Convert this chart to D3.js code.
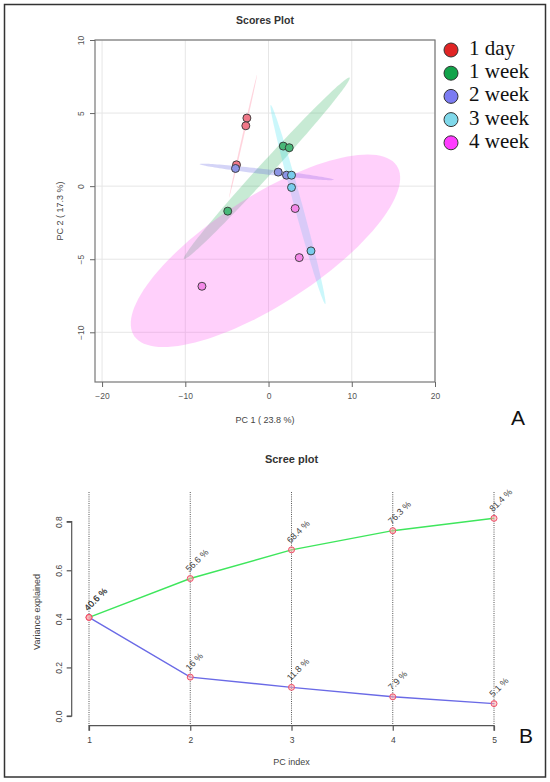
<!DOCTYPE html>
<html><head><meta charset="utf-8">
<script src="https://cdn.jsdelivr.net/npm/d3@7/dist/d3.min.js"></script>
<style>body{margin:0;background:#fff}text{font-family:"Liberation Sans",Arial,sans-serif}</style>
</head><body>
<svg id="c" width="550" height="782"></svg>
<script>
// ---- Scores plot data ----
const groups = ["1 day","1 week","2 week","3 week","4 week"];
const scoreGroup = ["1 day","1 day","1 day","1 week","1 week","1 week","2 week","2 week","2 week","3 week","3 week","3 week","4 week","4 week","4 week"];
const scorePC1 = [-2.6,-2.73,-3.85, 1.77,2.49,-4.9, -3.97,1.16,2.16, 2.76,2.76,5.1, 3.2,3.69,-8.0];
const scorePC2 = [4.66,4.13,1.46, 2.74,2.63,-1.71, 1.21,0.96,0.75, 0.75,-0.09,-4.43, -1.53,-4.89,-6.85];
const scoreXTicks = [-20,-10,0,10,20];
const scoreYTicks = [-10,-5,0,5,10];
const pointColors = ["#f07888","#48b878","#8c94e4","#78ccec","#f488e8"];
const ellipseColors = ["#ff6080","#30b060","#6060e0","#40e0f0","#ff50f0"];
const legendColors = ["#e02424","#12a34a","#7b7bf2","#7fd8ea","#ff3cff"];

// ---- Scree plot data ----
const pcIndex = [1,2,3,4,5];
const cumulative = [0.406,0.566,0.684,0.763,0.814];
const individual = [0.406,0.16,0.118,0.079,0.051];
const cumLabels = ["40.6 %","56.6 %","68.4 %","76.3 %","81.4 %"];
const indLabels = ["40.6 %","16 %","11.8 %","7.9 %","5.1 %"];
const screeYTicks = [0,0.2,0.4,0.6,0.8];

const svg = d3.select("#c");
const txt = "#333";

// outer frame
svg.append("rect").attr("x",4.5).attr("y",4.5).attr("width",541).attr("height",772.5)
  .attr("fill","none").attr("stroke","#333").attr("stroke-width",1.5);

// ===== Scores plot =====
const x1 = d3.scaleLinear().domain([-20.85,20]).range([95,435]);
const y1 = d3.scaleLinear().domain([-13.4,10]).range([382,40]);
const g1 = svg.append("g");

g1.append("clipPath").attr("id","clip1").append("rect")
  .attr("x",95).attr("y",40).attr("width",340).attr("height",342);

// gridlines
g1.selectAll(".gx").data(scoreXTicks).join("line")
  .attr("x1",d=>x1(d)).attr("x2",d=>x1(d)).attr("y1",40).attr("y2",382)
  .attr("stroke","#e6e6e6").attr("stroke-width",1);
g1.selectAll(".gy").data(scoreYTicks).join("line")
  .attr("y1",d=>y1(d)).attr("y2",d=>y1(d)).attr("x1",95).attr("x2",435)
  .attr("stroke","#e6e6e6").attr("stroke-width",1);

// ellipses (95% confidence from group points)
function ellipse(xs, ys, t){
  const n = xs.length;
  const mx = d3.mean(xs), my = d3.mean(ys);
  let a=0,b=0,c=0;
  for(let i=0;i<n;i++){const dx=xs[i]-mx, dy=ys[i]-my; a+=dx*dx; b+=dx*dy; c+=dy*dy;}
  a/=(n-1); b/=(n-1); c/=(n-1);
  const tr=(a+c)/2, det=Math.sqrt(((a-c)/2)**2 + b*b);
  const l1=tr+det, l2=Math.max(tr-det,0);
  const th=0.5*Math.atan2(2*b, a-c);
  const pts=[];
  for(let k=0;k<120;k++){
    const ang=2*Math.PI*k/120;
    const u=t*Math.sqrt(l1)*Math.cos(ang), v=t*Math.sqrt(l2)*Math.sin(ang);
    pts.push([mx+u*Math.cos(th)-v*Math.sin(th), my+u*Math.sin(th)+v*Math.cos(th)]);
  }
  return pts;
}
const tval = Math.sqrt(-2*Math.log(1-0.95));
const line1 = d3.line().x(d=>x1(d[0])).y(d=>y1(d[1])).curve(d3.curveLinearClosed);
const eg = g1.append("g").attr("clip-path","url(#clip1)");
groups.forEach((gname,gi)=>{
  const idx = scoreGroup.map((g,i)=>g===gname?i:-1).filter(i=>i>=0);
  const pts = ellipse(idx.map(i=>scorePC1[i]), idx.map(i=>scorePC2[i]), tval);
  eg.append("path").attr("d",line1(pts)).attr("fill",ellipseColors[gi]).attr("fill-opacity",0.27).attr("stroke","none");
});

// points
g1.selectAll(".pt").data(scorePC1.map((v,i)=>i)).join("circle")
  .attr("cx",i=>x1(scorePC1[i])).attr("cy",i=>y1(scorePC2[i])).attr("r",4)
  .attr("fill",i=>pointColors[groups.indexOf(scoreGroup[i])])
  .attr("stroke","#333").attr("stroke-width",0.9);

// box
g1.append("rect").attr("x",95).attr("y",40).attr("width",340).attr("height",342)
  .attr("fill","none").attr("stroke","#777").attr("stroke-width",1.2);

// axes
const ax1 = g1.append("g").attr("transform","translate(0,382)")
  .call(d3.axisBottom(x1).tickValues(scoreXTicks).tickSize(5).tickPadding(6));
ax1.select(".domain").remove();
const ay1 = g1.append("g").attr("transform","translate(95,0)")
  .call(d3.axisLeft(y1).tickValues(scoreYTicks).tickSize(5));
ay1.select(".domain").remove();
[ax1,ay1].forEach(a=>{a.selectAll("line").attr("stroke","#666");
  a.selectAll("text").attr("fill","#555").style("font-size","8.5px").style("font-family","Liberation Sans, Arial, sans-serif");});
ay1.selectAll("text").attr("x",null).attr("dy",null).attr("text-anchor","middle")
  .attr("transform","translate(-11.5,0) rotate(-90)");

g1.append("text").attr("x",265).attr("y",24).attr("text-anchor","middle")
  .attr("font-weight","bold").attr("font-size",10.5).attr("fill",txt).text("Scores Plot");
g1.append("text").attr("x",265).attr("y",423).attr("text-anchor","middle")
  .attr("font-size",9).attr("fill","#444").text("PC 1 ( 23.8 %)");
g1.append("text").attr("transform","translate(63,211) rotate(-90)").attr("text-anchor","middle")
  .attr("font-size",9).attr("fill","#444").text("PC 2 ( 17.3 %)");

// legend
const lg = svg.append("g");
groups.forEach((gname,gi)=>{
  const cy = 50 + gi*23.2;
  lg.append("circle").attr("cx",451).attr("cy",cy).attr("r",7)
    .attr("fill",legendColors[gi]).attr("stroke","#333").attr("stroke-width",1);
  lg.append("text").attr("x",469).attr("y",cy+5).attr("font-size",21)
    .style("font-family","'Liberation Serif','Times New Roman',serif").attr("fill","#111").text(gname);
});

svg.append("text").attr("x",518).attr("y",425).attr("text-anchor","middle")
  .attr("font-size",21).attr("fill","#111").text("A");

// ===== Scree plot =====
const xs = d3.scaleLinear().domain([1,5]).range([89,494]);
const ys = d3.scaleLinear().domain([0,0.8]).range([716,521.7]);
const g2 = svg.append("g");

g2.selectAll(".vl").data(pcIndex).join("line")
  .attr("x1",d=>xs(d)).attr("x2",d=>xs(d)).attr("y1",492).attr("y2",725.7)
  .attr("stroke","#444").attr("stroke-width",0.9).attr("stroke-dasharray","1,1.2");

const lineS = d3.line().x((d,i)=>xs(pcIndex[i])).y(d=>ys(d));
g2.append("path").attr("d",lineS(cumulative)).attr("fill","none").attr("stroke","#3ee65c").attr("stroke-width",1.4);
g2.append("path").attr("d",lineS(individual)).attr("fill","none").attr("stroke","#6a6ae6").attr("stroke-width",1.4);

[cumulative, individual].forEach((ser,si)=>{
  g2.selectAll(".m"+si).data(ser).join("circle")
    .attr("cx",(d,i)=>xs(pcIndex[i])).attr("cy",d=>ys(d)).attr("r",3)
    .attr("fill","rgba(255,170,170,0.55)").attr("stroke","#f0506a").attr("stroke-width",1);
  const labs = si===0?cumLabels:indLabels;
  g2.selectAll(".l"+si).data(ser).join("text")
    .attr("transform",(d,i)=>`translate(${xs(pcIndex[i])-1},${ys(d)-6}) rotate(-45)`)
    .attr("font-size",9).attr("fill","#444").text((d,i)=>labs[i]);
});

const ax2 = g2.append("g").attr("transform","translate(0,725.7)")
  .call(d3.axisBottom(xs).tickValues(pcIndex).tickFormat(d3.format("d")).tickSize(5).tickSizeOuter(0).tickPadding(6));
const ay2 = g2.append("g").attr("transform","translate(71.7,0)")
  .call(d3.axisLeft(ys).tickValues(screeYTicks).tickFormat(d3.format(".1f")).tickSize(5).tickSizeOuter(0));
[ax2,ay2].forEach(a=>{a.selectAll("line,path").attr("stroke","#555").attr("stroke-width",1.2);
  a.selectAll("text").attr("fill","#444").style("font-size","8.5px").style("font-family","Liberation Sans, Arial, sans-serif");});
ay2.select(".domain").attr("d",`M-5,${ys(0)}H0V${ys(0.8)}H-5`);
ax2.select(".domain").attr("d",`M${xs(1)},5V0H${xs(5)}V5`);
ay2.selectAll("text").attr("x",null).attr("dy",null).attr("text-anchor","middle")
  .attr("transform","translate(-10,0) rotate(-90)");

g2.append("text").attr("x",291.5).attr("y",463).attr("text-anchor","middle")
  .attr("font-weight","bold").attr("font-size",11).attr("fill",txt).text("Scree plot");
g2.append("text").attr("x",291.5).attr("y",765).attr("text-anchor","middle")
  .attr("font-size",9).attr("fill","#444").text("PC index");
g2.append("text").attr("transform","translate(40,612) rotate(-90)").attr("text-anchor","middle")
  .attr("font-size",9).attr("fill","#444").text("Variance explained");

svg.append("text").attr("x",526).attr("y",743).attr("text-anchor","middle")
  .attr("font-size",21).attr("fill","#111").text("B");
</script>
</body></html>
